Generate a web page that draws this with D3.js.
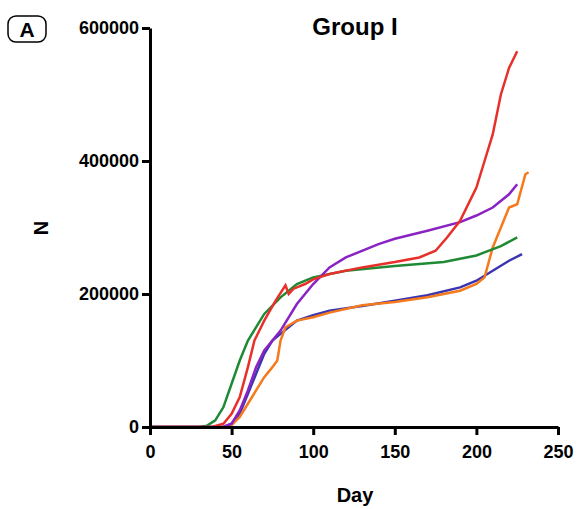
<!DOCTYPE html><html><head><meta charset="utf-8">
<script src="https://cdn.jsdelivr.net/npm/d3@7"></script>
<style>body{margin:0;background:#fff}text{font-family:Arial,"Liberation Sans",sans-serif}</style></head><body>
<svg id="c" width="578" height="509"></svg>
<script>
const xTicks=[0,50,100,150,200,250];
const yTicks=[0,200000,400000,600000];
const redD=[[0,0],[38,0],[45,5000],[50,20000],[55,45000],[60,90000],[64,130000],[70,160000],[77,190000],[83,213000],[85,200000],[88,208000],[95,215000],[100,222000],[110,230000],[130,240000],[150,248000],[165,255000],[175,265000],[182,285000],[190,310000],[200,360000],[205,400000],[210,440000],[215,500000],[220,540000],[225,565000]];
const greenD=[[0,0],[30,0],[35,2000],[40,10000],[45,30000],[50,65000],[55,100000],[60,130000],[70,170000],[80,195000],[90,215000],[100,225000],[120,235000],[150,242000],[180,248000],[200,258000],[215,272000],[225,285000]];
const purpleD=[[0,0],[45,0],[50,5000],[55,25000],[60,55000],[65,90000],[70,115000],[75,130000],[80,145000],[90,185000],[100,215000],[110,240000],[120,255000],[140,275000],[150,283000],[170,295000],[190,308000],[200,318000],[210,330000],[220,350000],[225,365000]];
const blueD=[[0,0],[45,0],[50,5000],[55,20000],[60,50000],[65,80000],[70,110000],[75,130000],[80,140000],[90,160000],[100,168000],[110,175000],[130,182000],[150,190000],[170,198000],[190,210000],[200,220000],[210,235000],[220,250000],[228,260000]];
const orangeD=[[0,0],[45,0],[50,3000],[55,15000],[60,35000],[65,55000],[70,75000],[75,90000],[78,100000],[80,130000],[83,150000],[90,160000],[100,165000],[110,172000],[130,183000],[150,188000],[170,195000],[190,205000],[200,215000],[205,225000],[210,270000],[215,300000],[220,330000],[225,335000],[230,380000],[232,383000]];
const series=[{d:blueD,c:"#3c35b0"},{d:orangeD,c:"#f57a1c"},{d:greenD,c:"#1f8a35"},{d:purpleD,c:"#8a22c4"},{d:redD,c:"#e8302a"}];
const svg=d3.select("#c");
const x=d3.scaleLinear().domain([0,250]).range([150,558]);
const y=d3.scaleLinear().domain([0,600000]).range([427,28]);
const line=d3.line().x(d=>x(d[0])).y(d=>y(d[1]));
series.forEach(s=>svg.append("path").attr("d",line(s.d)).attr("fill","none").attr("stroke",s.c).attr("stroke-width",2.5));
const xa=svg.append("g").attr("transform","translate(0,427)").call(d3.axisBottom(x).tickValues(xTicks).tickSize(8).tickSizeOuter(0));
const ya=svg.append("g").attr("transform","translate(150,0)").call(d3.axisLeft(y).tickValues(yTicks).tickSize(8).tickSizeOuter(0).tickFormat(d3.format("d")));
[xa,ya].forEach(a=>{a.selectAll("path,line").attr("stroke","#000").attr("stroke-width",3);a.selectAll("text").attr("font-size",18).attr("font-weight","bold").attr("fill","#000");});
xa.selectAll("text").attr("dy","1.1em");
svg.append("text").attr("x",355).attr("y",35).attr("text-anchor","middle").attr("font-size",24).attr("font-weight","bold").text("Group I");
svg.append("text").attr("x",355).attr("y",502).attr("text-anchor","middle").attr("font-size",20).attr("font-weight","bold").text("Day");
svg.append("text").attr("transform","translate(48,228) rotate(-90)").attr("text-anchor","middle").attr("font-size",20).attr("font-weight","bold").text("N");
svg.append("rect").attr("x",8).attr("y",16).attr("width",38).attr("height",26).attr("rx",8).attr("fill","none").attr("stroke","#000").attr("stroke-width",1.5);
svg.append("text").attr("x",27).attr("y",37).attr("text-anchor","middle").attr("font-size",21).attr("font-weight","bold").text("A");
</script></body></html>
